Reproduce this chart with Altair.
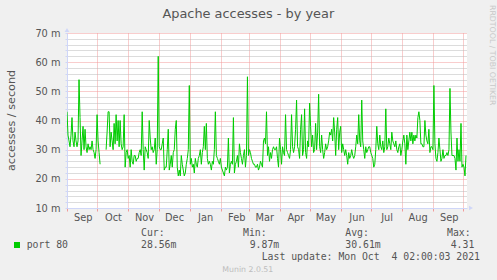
import altair as alt
import pandas as pd

# ---- data -----------------------------------------------------------------
START = "2020-08-31T16:00:00Z"   # left edge of the 400-day window
END = "2021-10-04T16:00:00Z"     # last update
MONTH_STARTS = ["2020-09-01", "2020-10-01", "2020-11-01", "2020-12-01",
                "2021-01-01", "2021-02-01", "2021-03-01", "2021-04-01",
                "2021-05-01", "2021-06-01", "2021-07-01", "2021-08-01",
                "2021-09-01", "2021-10-01"]
Y_TICKS = list(range(10, 71, 2))   # milli-accesses / second

# daily average accesses/second (in m), one value per day from START
port80 = [
    43, 35, 33, 31, 35, 41, 33, 31, 36, 33,
    31, 33, 54, 41, 28, 33, 38, 30, 37, 31,
    29, 32, 30, 31, 30, 33, 30, 29, 27, 30,
    42, 33, 29, 25, None, None, None, None, None, 30,
    36, 43, 43, 31, 36, 33, 30, 39, 32, 42,
    33, 40, 31, 40, 32, 30, 31, 42, 24, 29,
    30, 27, 28, 24, 30, 26, 25, 28, 28, 26,
    27, 27, 29, 30, 28, 43, 30, 23, 31, 30,
    29, 27, 40, 34, 30, 31, 29, 30, 34, 25,
    30, 62, 31, 30, 30, 32, 34, 23, 24, 24,
    30, 37, 23, 25, 28, 24, 29, 30, 37, 40,
    24, 21, 23, 21, 28, 25, 23, 21, 22, 25,
    27, 30, 52, 25, 27, 24, 25, 22, 27, 25,
    24, 27, 28, 30, 25, 29, 31, 38, 30, 39,
    27, 25, 26, 25, 23, 26, 25, 30, 43, 28,
    27, 26, 25, 27, 24, 23, 22, 21, 24, 23,
    24, 34, 22, 25, 26, 25, 41, 22, 25, 26,
    28, 24, 32, 29, 27, 25, 28, 30, 24, 28,
    55, 28, 30, 29, 27, 26, 25, 25, 24, 24,
    25, 23, 24, 26, 25, 24, 33, 34, 32, 43,
    28, 31, 26, 29, 27, 30, 31, 30, 30, 31,
    27, 24, 34, 30, 25, 31, 29, 28, 42, 30,
    29, 28, 27, 30, 42, 31, 29, 31, 37, 47,
    31, 30, 27, 37, 42, 28, 30, 44, 29, 27,
    33, 31, 46, 38, 31, 35, 29, 30, 39, 30,
    36, 49, 31, 29, 35, 30, 27, 29, 32, 30,
    31, 33, 36, 35, 37, 33, 41, 36, 28, 37,
    41, 30, 36, 38, 29, 32, 30, 28, 30, 28,
    25, 29, 27, 28, 30, 28, 27, 28, 31, 35,
    32, 42, 33, 31, 47, 33, 30, 27, 31, 29,
    30, 31, 31, 29, 28, 27, 24, 25, 30, 38,
    32, 30, 35, 31, 30, 33, 29, 31, 44, 30,
    31, 34, 32, 30, 36, 33, 32, 31, 33, 30,
    29, 31, 32, 28, 30, 33, 35, 32, 25, 35,
    30, 33, 36, 33, 36, 32, 35, 33, 35, 34,
    41, 43, 40, 32, 32, 31, 31, 40, 35, 33,
    32, 37, 29, 31, 31, 30, 52, 32, 27, 26,
    29, 34, 30, 26, 27, 30, 27, 28, 28, 29,
    28, 30, 51, 36, 28, 28, 28, 27, 23, 34,
    26, 30, 26, 39, 24, 25, 24, 21, 28,
]

LEGEND_NAME = "port 80"
STATS_LABELS = ["Cur:", "Min:", "Avg:", "Max:"]
STATS_VALUES = ["28.56m", "9.87m", "30.61m", "4.31"]
LAST_UPDATE = "Last update: Mon Oct \u00a04 02:00:03 2021"

# ---- derived ----------------------------------------------------------------
DAY = 86400000
start_ms = int(pd.Timestamp(START).value // 10**6)
end_ms = int(pd.Timestamp(END).value // 10**6)
month_ms = [int(pd.Timestamp(m + "T00:00:00Z").value // 10**6) for m in MONTH_STARTS]
df = pd.DataFrame({"t": [start_ms + i * DAY for i in range(len(port80))],
                   "v": port80})

FONT = "DejaVu Sans"
MONO = "DejaVu Sans Mono"
TXT = "#555555"
AXIS_C = "#CFD6F8"
MGRID = "#F29A9A"
GRID = "#B8B8B8"

x_axis = alt.Axis(
    values=month_ms,
    labelExpr=f"datum.value >= {month_ms[-1]} ? '' : utcFormat(datum.value, '%b')",
    labelOffset=15.5, labelAlign="center", labelBaseline="alphabetic",
    labelPadding=9, labelFont=FONT, labelFontSize=9.8, labelColor=TXT,
    labelOverlap=False, labelFlush=False,
    grid=True, gridColor=MGRID, gridDash=[1, 1], gridWidth=1,
    ticks=True, tickColor=MGRID, tickSize=3,
    domainColor=AXIS_C, domainWidth=1, title=None,
)

y_axis = alt.Axis(
    values=Y_TICKS,
    labelExpr="datum.value % 10 === 0 ? datum.value + ' m' : ''",
    labelFont=FONT, labelFontSize=9.8, labelColor=TXT, labelPadding=5,
    grid=True,
    gridColor={"condition": {"test": "datum.value % 10 === 0", "value": MGRID},
               "value": GRID},
    gridDash=[1, 1], gridWidth=1,
    tickColor=AXIS_C, tickSize=2,
    domainColor=AXIS_C, domainWidth=1,
    title="accesses / second", titleFont=FONT, titleFontSize=11.2,
    titleFontWeight="normal", titleColor=TXT, titleAngle=270,
    titleX=-56, titleY=87, titleAlign="center", titleBaseline="middle",
)

line = alt.Chart(df).mark_line(color="#00CC00", strokeWidth=1, clip=True).encode(
    x=alt.X("t:T", scale=alt.Scale(type="utc", domain=[start_ms, end_ms]), axis=x_axis),
    y=alt.Y("v:Q", scale=alt.Scale(domain=[10, 70], nice=False, zero=False), axis=y_axis),
)

one = alt.Data(values=[{"k": 1}])


def txt(text, x, y, size, color=TXT, font=MONO, angle=0, align="left"):
    return alt.Chart(one).mark_text(
        text=text, font=font, fontSize=size, color=color, align=align,
        baseline="alphabetic", angle=angle,
    ).encode(x=alt.value(x), y=alt.value(y))


texts = [
    txt("Apache accesses - by year", 181.3, -15, 12.9, font=FONT, align="center"),
    txt("RRDTOOL / TOBI OETIKER", 423, -28, 7.8, color="#C8C8C8", font=FONT, angle=90),
    txt(LEGEND_NAME, -40.3, 214.7, 9.8),
    txt(LAST_UPDATE, 194.7, 227, 9.8),
    txt("Munin 2.0.51", 155.3, 239, 7.8, color="#BDBDBD", font=FONT),
]
label_x = [74, 176, 278.3, 380]
value_x = [74, 182.7, 278.3, 383.7]
for lab, lx in zip(STATS_LABELS, label_x):
    texts.append(txt(lab, lx, 202.7, 9.8))
for val, vx in zip(STATS_VALUES, value_x):
    texts.append(txt(val, vx, 214.5, 9.8))

swatch = alt.Chart(one).mark_square(size=36, color="#00CC00", opacity=1).encode(
    x=alt.value(-50), y=alt.value(212))
arrow_up = alt.Chart(one).mark_point(shape="triangle-up", filled=True, size=22,
                                     color=AXIS_C, opacity=1).encode(
    x=alt.value(0), y=alt.value(-3))
arrow_right = alt.Chart(one).mark_point(shape="triangle-right", filled=True, size=22,
                                        color=AXIS_C, opacity=1).encode(
    x=alt.value(404), y=alt.value(175))

chart = alt.layer(line, swatch, arrow_up, arrow_right, *texts).properties(
    width=400, height=175,
    autosize=alt.AutoSizeParams(type="none"),
    padding={"left": 67, "top": 33, "right": 30, "bottom": 72},
    background="#F0F0F0",
).configure_view(fill="white", stroke=None)

chart.save("out.html", embed_options={"renderer": "svg", "actions": False})
